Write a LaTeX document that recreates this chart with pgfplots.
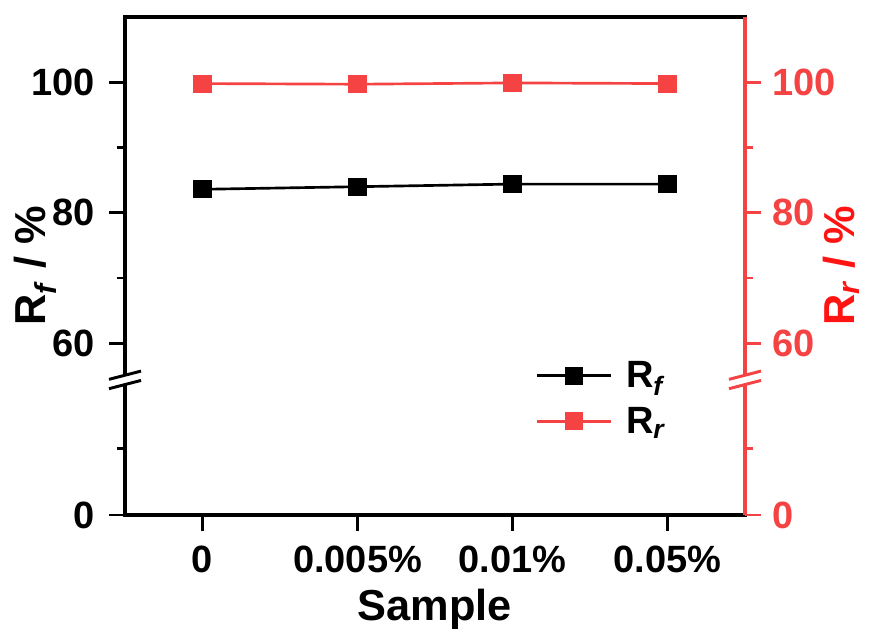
\documentclass[border=0pt]{standalone}
\usepackage{pgfplots}
\pgfplotsset{compat=1.18}
\usepackage{fontspec}
\setmainfont{Liberation Sans}
\usetikzlibrary{calc}
\definecolor{rr}{RGB}{245,66,66}
\definecolor{rlab}{RGB}{255,20,20}
\begin{document}
\begin{tikzpicture}
\pgfplotsset{
 common/.style={
  scale only axis, width=465pt, height=373.5pt,
  xmin=-0.5, xmax=3.5, ymin=33.7, ymax=110,
  ytick={33.7,60,80,100}, yticklabels={0,60,80,100},
  minor ytick={43.9,70,90},
  tick align=outside,
  major tick length=12pt, minor tick length=6pt,
  axis line style={line width=2.5pt},
  every tick/.append style={line width=2.1pt},
  every major tick/.append style={line width=2.1pt},
  every minor tick/.append style={line width=2.1pt},
  /pgf/number format/assume math mode=true,
  tick label style={font=\fontsize{28.5}{30}\selectfont\bfseries},
  label style={font=\fontsize{32.5}{34}\selectfont\bfseries},
  clip=false,
 }
}
\begin{axis}[common,
  ytick pos=left, xtick pos=bottom,
  tick style={black},
  yticklabel style={xshift=-7pt},
  xticklabel style={yshift=-8pt},
  xtick={0,1,2,3}, xticklabels={0,0.005\%,0.01\%,0.05\%},
  xlabel={Sample},
  xlabel style={at={(axis description cs:0.5,-0.148)}, anchor=north, inner sep=0pt},
  ylabel={R\textsubscript{\textit{f}} / \%},
  ylabel style={at={(axis description cs:-0.11,0.5)}, anchor=south, inner sep=0pt},
  legend style={at={(axis description cs:0.655,0.319)}, anchor=north west, draw=none, fill=none,
    font=\fontsize{28.5}{30}\selectfont\bfseries, row sep=9pt},
  legend cell align=left,
  legend image code/.code={\draw[mark repeat=2,mark phase=2] plot coordinates {(0pt,0pt) (28pt,0pt) (56pt,0pt)}; \path (64pt,0pt);},
]
\addplot[black, line width=2pt, mark=square*, mark size=5.8pt, mark options={solid}]
 coordinates {(0,83.6) (1,84.0) (2,84.4) (3,84.4)};
\addlegendentry{R\textsubscript{\textit{f}}}
\addlegendimage{rr, line width=2pt, mark=square*, mark size=5.8pt}
\addlegendentry{R\textsubscript{\textit{r}}}
\coordinate (bl) at (axis cs:-0.5,54.4);
\coordinate (ll) at (rel axis cs:0,0);
\coordinate (ur) at (rel axis cs:1,1);
\end{axis}
\begin{axis}[common,
  axis y line*=right, axis x line=none, xtick=\empty,
  y axis line style={rr},
  tick style={rr},
  yticklabel style={rr, xshift=5pt},
  ylabel={R\textsubscript{\textit{r}} / \%},
  ylabel style={rlab, at={(axis description cs:1.125,0.5)}, anchor=north, inner sep=0pt},
]
\addplot[rr, line width=2pt, mark=square*, mark size=5.8pt]
 coordinates {(0,99.8) (1,99.7) (2,99.9) (3,99.8)};
\coordinate (br) at (axis cs:3.5,54.4);
\end{axis}
\foreach \c/\col in {bl/black, br/rr}{
  \fill[white] ($(\c)+(-3pt,-3.4pt)$) rectangle ($(\c)+(3pt,3.4pt)$);
  \draw[\col, line width=2.2pt] ($(\c)+(-12pt,0.4pt)$) -- ($(\c)+(12pt,6.6pt)$);
  \draw[\col, line width=2.2pt] ($(\c)+(-12pt,-6.6pt)$) -- ($(\c)+(12pt,-0.4pt)$);
}
\pgfresetboundingbox
\path ($(ll)+(-93.75pt,-87.75pt)$) rectangle ($(ur)+(94.5pt,12.75pt)$);
\end{tikzpicture}
\end{document}
